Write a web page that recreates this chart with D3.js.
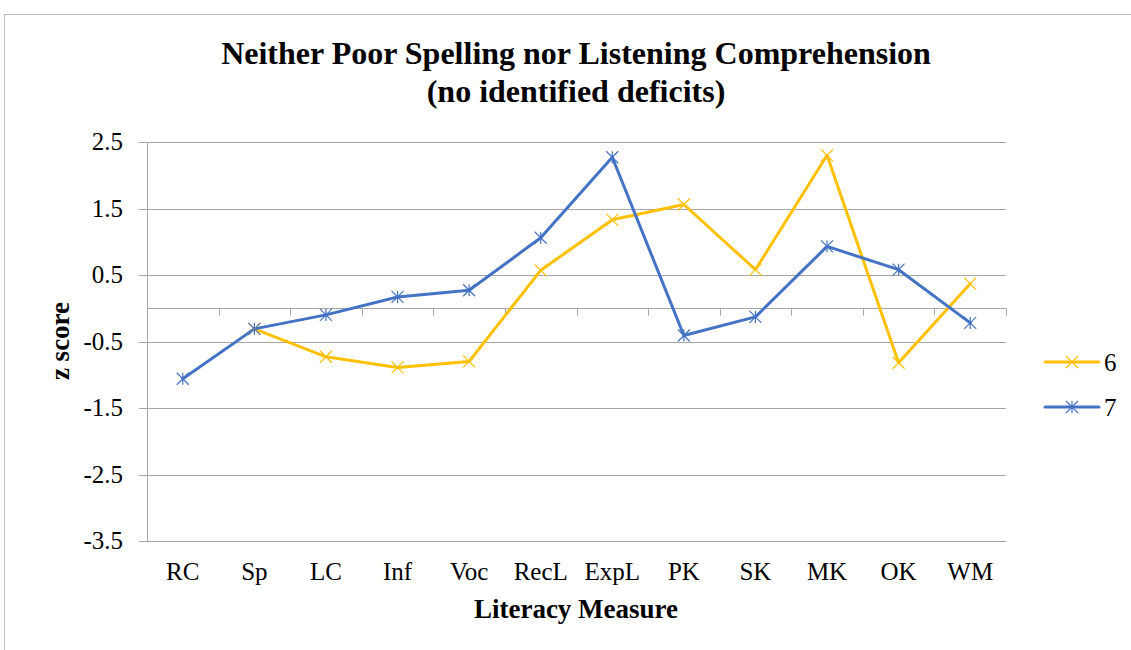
<!DOCTYPE html>
<html>
<head>
<meta charset="utf-8">
<script src="https://cdn.jsdelivr.net/npm/d3@7"></script>
<style>
  body { margin: 0; background: #fff; }
  svg text { font-family: "Liberation Serif", "Times New Roman", serif; fill: #000; }
</style>
</head>
<body>
<div id="chart"></div>
<script>
// DATA
const categories = ["RC", "Sp", "LC", "Inf", "Voc", "RecL", "ExpL", "PK", "SK", "MK", "OK", "WM"];
const series6 = [null, -0.31, -0.73, -0.89, -0.80, 0.57, 1.33, 1.56, 0.58, 2.30, -0.82, 0.37];
const series7 = [-1.06, -0.31, -0.10, 0.17, 0.27, 1.06, 2.27, -0.41, -0.13, 0.93, 0.58, -0.22];
const yTicks = [2.5, 1.5, 0.5, -0.5, -1.5, -2.5, -3.5];
const seriesNames = ["6", "7"];

const W = 1131, H = 650;
const margin = { top: 142, left: 147, right: 125, bottom: 109 };

const svg = d3.select('#chart').append('svg')
  .attr('width', W)
  .attr('height', H);

// chart border (runs off the right and bottom)
svg.append('rect')
  .attr('x', 4.5).attr('y', 14.5)
  .attr('width', W + 10).attr('height', H + 10)
  .attr('fill', 'none')
  .attr('stroke', '#bfbfbf')
  .attr('stroke-width', 1);

// scales in page coordinates
const xScale = d3.scaleBand()
  .domain(categories)
  .range([margin.left, W - margin.right]);

const yScale = d3.scaleLinear()
  .domain([-3.5, 2.5])
  .range([H - margin.bottom, margin.top]);

const xLeft = margin.left, xRight = W - margin.right;
const xMid = d => xScale(d) + xScale.bandwidth() / 2;

// gridlines
svg.selectAll('.grid').data(yTicks).enter().append('line')
  .attr('class', 'grid')
  .attr('x1', xLeft - 8).attr('x2', xRight)
  .attr('y1', d => Math.round(yScale(d)) + 0.5)
  .attr('y2', d => Math.round(yScale(d)) + 0.5)
  .attr('stroke', '#a6a6a6');

// y labels
svg.selectAll('.y-label').data(yTicks).enter().append('text')
  .attr('class', 'y-label')
  .attr('x', 123)
  .attr('y', d => yScale(d) + 8)
  .attr('text-anchor', 'end')
  .style('font-size', '25px')
  .text(d => d.toFixed(1));

// vertical axis line
svg.append('line')
  .attr('x1', xLeft + 0.5).attr('x2', xLeft + 0.5)
  .attr('y1', yScale(2.5)).attr('y2', yScale(-3.5))
  .attr('stroke', '#a6a6a6');

// horizontal axis at zero, ticks between categories
const y0 = Math.round(yScale(0)) + 0.5;
svg.append('line')
  .attr('x1', xLeft).attr('x2', xRight)
  .attr('y1', y0).attr('y2', y0)
  .attr('stroke', '#a6a6a6');
const tickPos = categories.map(c => xScale(c)).concat([xRight]);
svg.selectAll('.x-tick').data(tickPos).enter().append('line')
  .attr('class', 'x-tick')
  .attr('x1', d => Math.round(d) + 0.5).attr('x2', d => Math.round(d) + 0.5)
  .attr('y1', y0).attr('y2', y0 + 7)
  .attr('stroke', '#a6a6a6');

// category labels at bottom
svg.selectAll('.cat-label').data(categories).enter().append('text')
  .attr('class', 'cat-label')
  .attr('x', d => xMid(d))
  .attr('y', 580)
  .attr('text-anchor', 'middle')
  .style('font-size', '25px')
  .text(d => d);

// lines
const colors = ['#FFC000', '#4472C4'];
const allSeries = [series6, series7];

const lineGenerator = d3.line()
  .defined(d => d != null)
  .x((d, i) => xMid(categories[i]))
  .y(d => yScale(d));

allSeries.forEach((s, k) => {
  svg.append('path')
    .attr('fill', 'none')
    .attr('stroke', colors[k])
    .attr('stroke-width', 3)
    .attr('stroke-linejoin', 'round')
    .attr('stroke-linecap', 'round')
    .attr('d', lineGenerator(s));
});

function drawMarker(sel, k, r) {
  let p = `M${-r},${-r}L${r},${r}M${-r},${r}L${r},${-r}`;
  if (k == 1) p += `M0,${-r}L0,${r}`;
  sel.append('path')
    .attr('d', p)
    .attr('fill', 'none')
    .attr('stroke', colors[k])
    .attr('stroke-width', 1.2);
}

allSeries.forEach((s, k) => {
  s.forEach((v, i) => {
    if (v == null) return;
    const m = svg.append('g')
      .attr('transform', `translate(${xMid(categories[i])}, ${yScale(v)})`);
    drawMarker(m, k, 6);
  });
});

// title
svg.append('text')
  .attr('x', 576).attr('y', 64)
  .attr('text-anchor', 'middle')
  .style('font-size', '32px').style('font-weight', 'bold')
  .text('Neither Poor Spelling nor Listening Comprehension');
svg.append('text')
  .attr('x', 576).attr('y', 102)
  .attr('text-anchor', 'middle')
  .style('font-size', '32px').style('font-weight', 'bold')
  .text('(no identified deficits)');

// axis titles
svg.append('text')
  .attr('x', 576).attr('y', 618)
  .attr('text-anchor', 'middle')
  .style('font-size', '27px').style('font-weight', 'bold')
  .text('Literacy Measure');
svg.append('text')
  .attr('transform', 'translate(69, 341) rotate(-90)')
  .attr('text-anchor', 'middle')
  .style('font-size', '27px').style('font-weight', 'bold')
  .text('z score');

// legend
const legend = svg.append('g').attr('transform', 'translate(1045, 362)');
seriesNames.forEach((name, k) => {
  const row = legend.append('g').attr('transform', `translate(0, ${k * 45})`);
  row.append('line')
    .attr('x1', 0).attr('x2', 54)
    .attr('stroke', colors[k]).attr('stroke-width', 3)
    .attr('stroke-linecap', 'round');
  const m = row.append('g').attr('transform', 'translate(27, 0)');
  drawMarker(m, k, 6);
  row.append('text')
    .attr('x', 59).attr('y', 9)
    .style('font-size', '25px')
    .text(name);
});
</script>
</body>
</html>
